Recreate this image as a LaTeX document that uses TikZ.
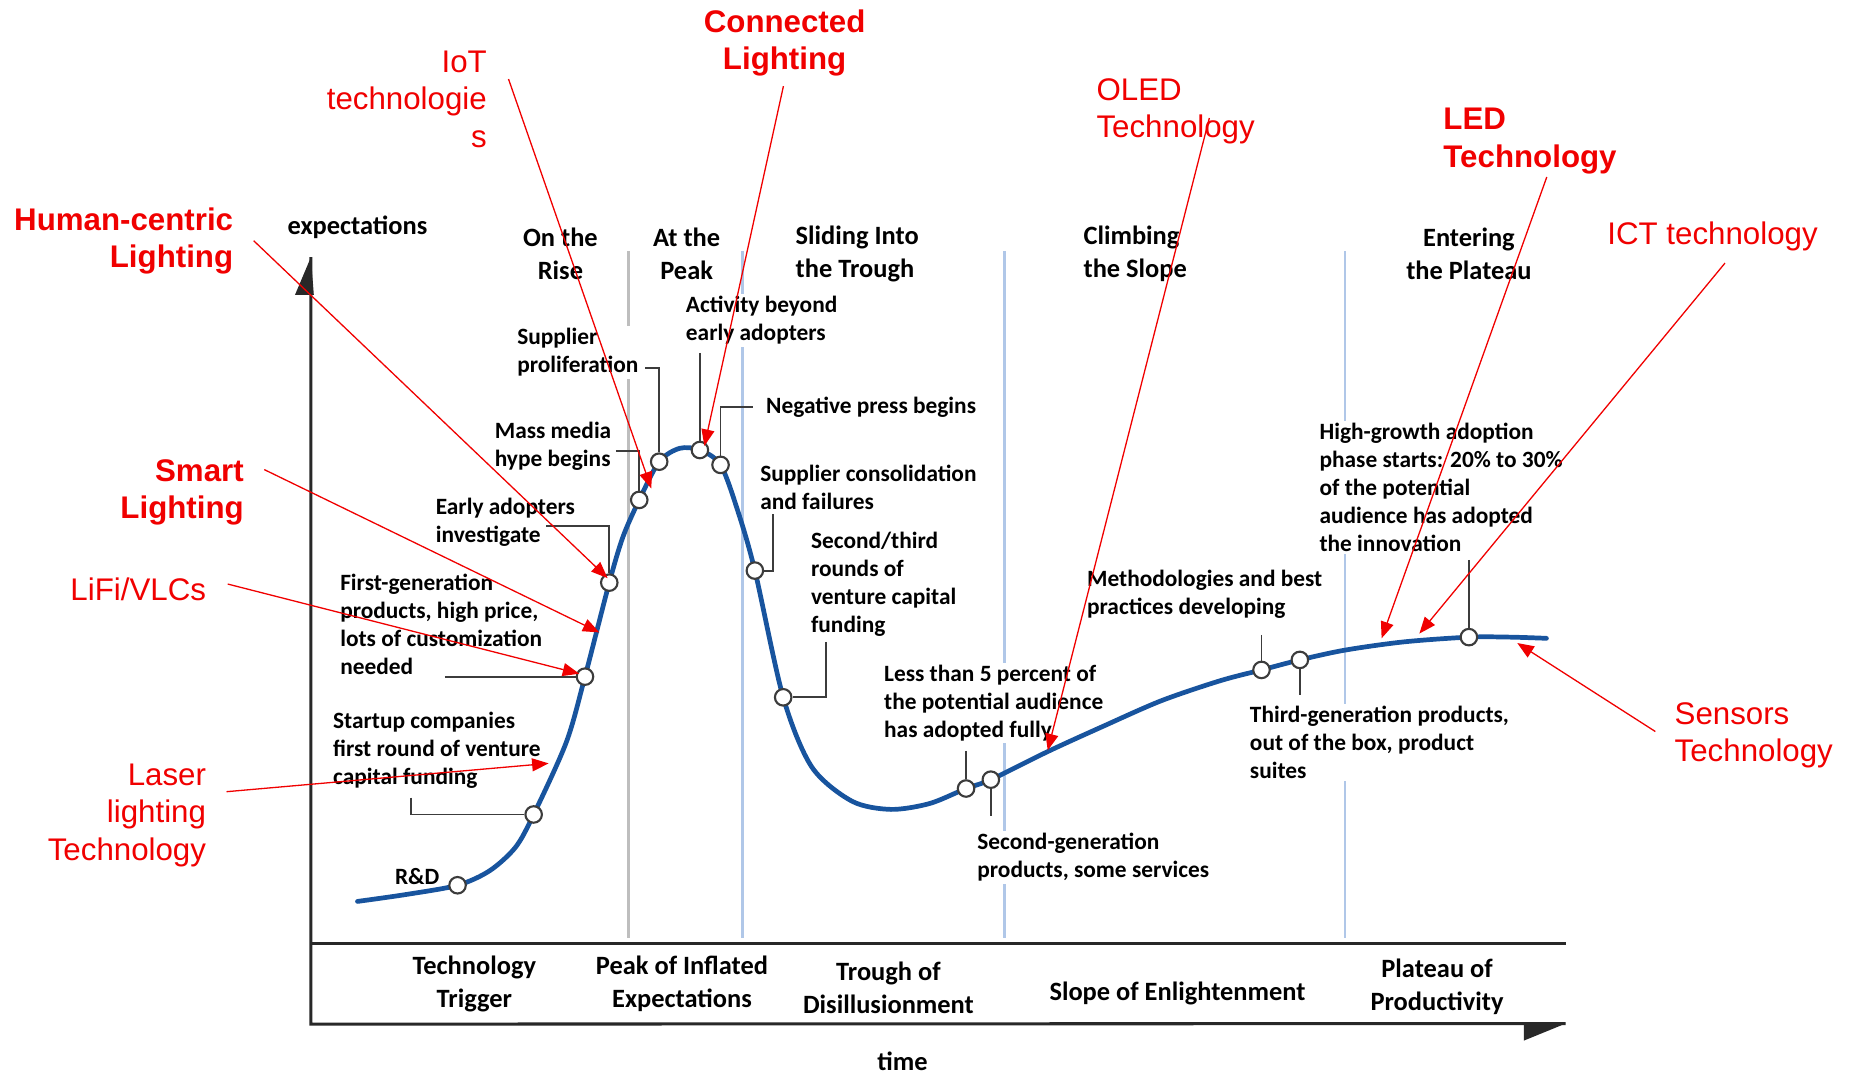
\documentclass[tikz,border=0pt]{standalone}
\usepackage{fontspec}
\setmainfont{Carlito}
\newfontfamily\redfont{Liberation Sans}
\usetikzlibrary{arrows.meta}
\definecolor{curveblue}{RGB}{24,84,158}
\definecolor{annred}{RGB}{240,0,0}
\definecolor{sepgray}{RGB}{190,190,190}
\definecolor{sepblue}{RGB}{176,199,232}
\definecolor{inkgray}{RGB}{60,60,60}
\definecolor{axisblack}{RGB}{40,40,40}
\begin{document}
\begin{tikzpicture}[x=0.5pt,y=-0.5pt,
  ann/.style={font=\fontsize{9.9}{11.8}\selectfont\bfseries, align=left, anchor=west, fill=white, inner sep=1pt},
  phase/.style={font=\fontsize{11.2}{14}\selectfont\bfseries, align=center, inner sep=1pt},
  redlab/.style={font=\redfont\fontsize{13.25}{15.8}\selectfont, text=annred, inner sep=0pt},
  redbold/.style={font=\redfont\fontsize{13.25}{15.8}\selectfont\bfseries, text=annred, inner sep=0pt},
  dot/.style={circle, draw=inkgray, fill=white, line width=0.9pt, minimum size=7pt, inner sep=0pt},
  leader/.style={draw=inkgray, line width=0.8pt},
  sepline/.style={line width=1.1pt},
  axisline/.style={draw=axisblack, line width=1.3pt},
  redarrow/.style={draw=annred, line width=0.55pt, -{Triangle[length=7pt,width=5.5pt]}},
]
\useasboundingbox (0,0) rectangle (1568,912);

% phase separators
\draw[sepline, sepgray] (532.5,213) coordinate (s1t) -- (532.5,795) coordinate (s1b);
\draw[sepline, sepblue] (629.5,213) coordinate (s2t) -- (629.5,795) coordinate (s2b);
\draw[sepline, sepblue] (851.3,213) coordinate (s3t) -- (851.3,795) coordinate (s3b);
\draw[sepline, sepblue] (1139.8,213) coordinate (s4t) -- (1139.8,795) coordinate (s4b);

% axes and bottom band
\coordinate (yaxTop) at (263.5,218);
\coordinate (yaxBot) at (263.5,868);
\coordinate (bandTL) at (263.5,800);
\coordinate (bandTR) at (1327,800);
\coordinate (xaxR) at (1327,867.5);
\draw[axisline] (yaxTop) -- (yaxBot) -- (xaxR);
\draw[axisline] (bandTL) -- (bandTR);
\fill[axisblack] (yaxTop) -- (250,250) -- (266,250) -- cycle;
\fill[axisblack] (1291.5,866.5) -- (xaxR) -- (1291.5,882) -- cycle;

% header labels
\node[phase] (ylab) at (303,193) {expectations};
\node[phase] (ph1) at (475,215) {On the\\Rise};
\node[phase] (ph2) at (582,215) {At the\\Peak};
\node[phase, align=left, anchor=west] (ph3) at (672,215) {Sliding Into\\the Trough};
\node[phase, align=left, anchor=west] (ph4) at (916,215) {Climbing\\the Slope};
\node[phase] (ph5) at (1245,215) {Entering\\the Plateau};

% bottom band labels
\node[phase] (b1) at (402,834) {Technology\\Trigger};
\node[phase] (b2) at (578,834) {Peak of Inflated\\Expectations};
\node[phase] (b3) at (753,837) {Trough of\\Disillusionment};
\node[phase] (b4) at (998,842) {Slope of Enlightenment};
\node[phase] (b5) at (1218,836) {Plateau of\\Productivity};
\node[phase] (xlab) at (765,899.5) {time};

% annotations
\node[ann] (tSupP) at (436,298.5) {Supplier\\proliferation};
\node[ann] (tMass) at (417,378.5) {Mass media\\hype begins};
\node[ann] (tEarly) at (367,442.5) {Early adopters\\investigate};
\node[ann] (tFirst) at (286,529) {First-generation\\products, high price,\\lots of customization\\needed};
\node[ann] (tStart) at (280,636) {Startup companies\\first round of venture\\capital funding};
\node[ann, anchor=center] (tRD) at (353.6,742.5) {R\&D};
\node[ann] (tAct) at (579,271.5) {Activity beyond\\early adopters};
\node[ann] (tNeg) at (647,345.5) {Negative press begins};
\node[ann] (tCons) at (642,413) {Supplier consolidation\\and failures};
\node[ann] (tSec3) at (685,495) {Second/third\\rounds of\\venture capital\\funding};
\node[ann] (tLess) at (747,596) {Less than 5 percent of\\the potential audience\\has adopted fully};
\node[ann] (tSecG) at (826,726.5) {Second-generation\\products, some services};
\node[ann] (tMeth) at (919,503.5) {Methodologies and best\\practices developing};
\node[ann] (tThird) at (1057,629) {Third-generation products,\\out of the box, product\\suites};
\node[ann] (tHigh) at (1116,413) {High-growth adoption\\phase starts: 20\% to 30\%\\of the potential\\audience has adopted\\the innovation};

% hype curve
\draw[curveblue, line width=2pt, line cap=round] plot[smooth, tension=0.5] coordinates {
(303,764) (345,758) (387.8,750.3) (415,738) (437,718) (452.3,690.3) (480,629) (495.8,573.5)
(516.4,493.8) (528,455) (541.8,423.7) (558.7,391.3) (576,380) (593.2,381.4)
(610.7,394) (625,432) (639.8,483.6) (663.8,591) (688,650) (722,679) (755,686)
(788,681) (818.8,668.3) (839.8,660.8) (888,637) (934,616) (984,594) (1034,577)
(1069.2,567.8) (1101.7,559.3) (1140,551) (1190,544) (1245,540) (1280,540) (1310.7,541)};

% leader start points
\coordinate (lSupP) at (547,312);
\coordinate (lMass) at (522,382);
\coordinate (lEarly) at (463,446);
\coordinate (lFirst) at (377,573.5);
\coordinate (lStart) at (348,676);
\coordinate (lAct) at (593.2,299);
\coordinate (lNeg) at (638,344.6);
\coordinate (lCons) at (655.4,436);
\coordinate (lSec3) at (700.3,544);
\coordinate (lLess) at (818.8,636.5);
\coordinate (lSecG) at (839.8,691.5);
\coordinate (lMeth) at (1069.2,538);
\coordinate (lThird) at (1101.7,589);
\coordinate (lHigh) at (1245,474.6);

% milestone circles
\node[dot] (c1) at (387.8,750.3) {};
\node[dot] (c2) at (452.3,690.3) {};
\node[dot] (c3) at (495.8,573.5) {};
\node[dot] (c4) at (516.4,493.8) {};
\node[dot] (c5) at (541.8,423.7) {};
\node[dot] (c6) at (558.7,391.3) {};
\node[dot] (c7) at (593.2,381.4) {};
\node[dot] (c8) at (610.7,394) {};
\node[dot] (c9) at (639.8,483.6) {};
\node[dot] (c10) at (663.8,591) {};
\node[dot] (c11) at (818.8,668.3) {};
\node[dot] (c12) at (839.8,660.8) {};
\node[dot] (c13) at (1069.2,567.8) {};
\node[dot] (c14) at (1101.7,559.3) {};
\node[dot] (c15) at (1245,540) {};

% leaders
\draw[leader] (lSupP) -| (c6.north);
\draw[leader] (lMass) -| (c5.north);
\draw[leader] (lEarly) -| (c4.north);
\draw[leader] (lFirst) -- (c3.west);
\draw[leader] (lStart) |- (c2.west);
\draw[leader] (lAct) -- (c7.north);
\draw[leader] (lNeg) -| (c8.north);
\draw[leader] (lCons) |- (c9.east);
\draw[leader] (lSec3) |- (c10.east);
\draw[leader] (lLess) -- (c11.north);
\draw[leader] (lSecG) -- (c12.south);
\draw[leader] (lMeth) -- (c13.north);
\draw[leader] (lThird) -- (c14.south);
\draw[leader] (lHigh) -- (c15.north);

% red labels
\node[redbold, align=center] (rConn) at (665,36.5) {Connected\\Lighting};
\node[redlab, align=right, anchor=east] (rIoT) at (413,84) {IoT\\technologie\\s};
\node[redbold, align=right, anchor=east] (rHum) at (198,204.5) {Human-centric\\Lighting};
\node[redbold, align=right, anchor=east] (rSmart) at (207,417.5) {Smart\\Lighting};
\node[redlab, anchor=east] (rLiFi) at (175,499.5) {LiFi/VLCs};
\node[redlab, align=right, anchor=east] (rLaser) at (175,691) {Laser\\lighting\\Technology};
\node[redlab, align=left, anchor=west] (rOLED) at (929,94.5) {OLED\\Technology};
\node[redbold, align=left, anchor=west] (rLED) at (1223,119.5) {LED\\Technology};
\node[redlab, anchor=west] (rICT) at (1362,200.5) {ICT technology};
\node[redlab, align=left, anchor=west] (rSens) at (1419,623.5) {Sensors\\Technology};

% red arrow end points
\coordinate (aConnS) at (664,73);   \coordinate (aConnT) at (597,378);
\coordinate (aIoTS) at (431,67);    \coordinate (aIoTT) at (552,414);
\coordinate (aHumS) at (215,204);   \coordinate (aHumT) at (515,490);
\coordinate (aSmartS) at (224,398); \coordinate (aSmartT) at (508,536);
\coordinate (aLiFiS) at (193,495);  \coordinate (aLiFiT) at (491,571);
\coordinate (aLaserS) at (192,671); \coordinate (aLaserT) at (465,647);
\coordinate (aOLEDS) at (1025,100); \coordinate (aOLEDT) at (888,636);
\coordinate (aLEDS) at (1311,150);  \coordinate (aLEDT) at (1171,541);
\coordinate (aICTS) at (1462,223);  \coordinate (aICTT) at (1203,537);
\coordinate (aSensS) at (1403,620); \coordinate (aSensT) at (1286,545);

\draw[redarrow] (aConnS) -- (aConnT);
\draw[redarrow] (aIoTS) -- (aIoTT);
\draw[redarrow] (aHumS) -- (aHumT);
\draw[redarrow] (aSmartS) -- (aSmartT);
\draw[redarrow] (aLiFiS) -- (aLiFiT);
\draw[redarrow] (aLaserS) -- (aLaserT);
\draw[redarrow] (aOLEDS) -- (aOLEDT);
\draw[redarrow] (aLEDS) -- (aLEDT);
\draw[redarrow] (aICTS) -- (aICTT);
\draw[redarrow] (aSensS) -- (aSensT);
\end{tikzpicture}
\end{document}
